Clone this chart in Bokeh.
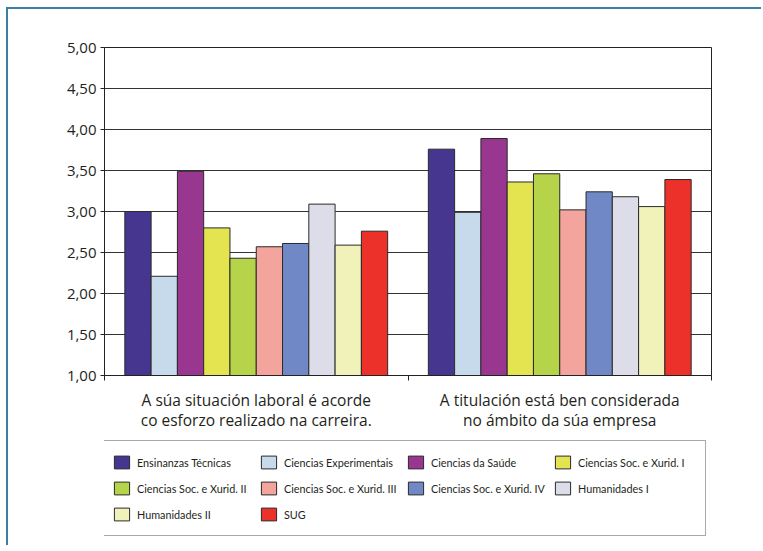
from bokeh.plotting import figure
from bokeh.layouts import column
from bokeh.models import FixedTicker, Legend, LegendItem, ColumnDataSource, Range1d, InlineStyleSheet
from bokeh.embed import file_html
from bokeh.resources import INLINE

# ---- data ----
groups = ["A súa situación laboral é acorde\nco esforzo realizado na carreira.",
          "A titulación está ben considerada\nno ámbito da súa empresa"]
series = ["Ensinanzas Técnicas", "Ciencias Experimentais", "Ciencias da Saúde",
          "Ciencias Soc. e Xurid. I", "Ciencias Soc. e Xurid. II", "Ciencias Soc. e Xurid. III",
          "Ciencias Soc. e Xurid. IV", "Humanidades I", "Humanidades II", "SUG"]
situacion_laboral = [3.00, 2.21, 3.49, 2.80, 2.43, 2.57, 2.61, 3.09, 2.59, 2.76]
titulacion_considerada = [3.76, 2.99, 3.89, 3.36, 3.46, 3.02, 3.24, 3.18, 3.06, 3.39]
colors = ["#46368F", "#C7DAEC", "#993690", "#E3E450", "#B5D44A",
          "#F3A49C", "#7089C6", "#DDDDEA", "#F1F2BA", "#EC312A"]
y_ticks = [1.0, 1.5, 2.0, 2.5, 3.0, 3.5, 4.0, 4.5, 5.0]
y_tick_labels = ["1,00", "1,50", "2,00", "2,50", "3,00", "3,50", "4,00", "4,50", "5,00"]

TEXT = "#231F20"
FONT = "Open Sans"
W = 761

p = figure(width=W, height=435, x_range=Range1d(0, len(groups)), y_range=Range1d(1, 5),
           output_backend="svg", toolbar_location=None,
           min_border_left=104, min_border_right=50, min_border_top=47, min_border_bottom=60)
p.border_fill_color = None

n = len(series)
group_share = 0.866
bw = group_share / n
renderers = []
for i, name in enumerate(series):
    vals = [situacion_laboral[i], titulacion_considerada[i]]
    xs = [g + 0.5 + (i - (n - 1) / 2) * bw for g in range(len(groups))]
    src = ColumnDataSource(dict(x=xs, top=vals))
    r = p.vbar(x="x", top="top", bottom=1, width=bw, source=src,
               fill_color=colors[i], line_color="#2A2A2A", line_width=1)
    renderers.append(r)

# y axis
p.yaxis.ticker = FixedTicker(ticks=y_ticks, minor_ticks=[])
p.yaxis.major_label_overrides = {t: l for t, l in zip(y_ticks, y_tick_labels)}
p.yaxis.major_tick_out = 4
p.yaxis.major_tick_in = 0
p.yaxis.major_label_standoff = 4
p.yaxis.axis_line_color = "#222222"
p.yaxis.major_tick_line_color = "#222222"
p.yaxis.major_label_text_font = FONT
p.yaxis.major_label_text_font_size = "15px"
p.yaxis.major_label_text_color = TEXT

# x axis
centers = [g + 0.5 for g in range(len(groups))]
p.xaxis.ticker = FixedTicker(ticks=centers, minor_ticks=list(range(len(groups) + 1)))
p.xaxis.major_label_overrides = {c: g for c, g in zip(centers, groups)}
p.xaxis.major_tick_line_color = None
p.xaxis.minor_tick_out = 5
p.xaxis.minor_tick_in = 0
p.xaxis.minor_tick_line_color = "#222222"
p.xaxis.axis_line_color = "#222222"
p.xaxis.major_label_standoff = 7
p.xaxis.major_label_text_font = FONT
p.xaxis.major_label_text_font_size = "15.5px"
p.xaxis.major_label_text_line_height = 0.95
p.xaxis.major_label_text_color = TEXT

p.xgrid.visible = False
p.ygrid.ticker = FixedTicker(ticks=y_ticks)
p.ygrid.grid_line_color = "#333333"
p.outline_line_color = "#222222"

# ---- legend panel (its frame is aligned with the chart frame) ----
LH = 110
q = figure(width=W, height=LH, x_range=Range1d(0, 1), y_range=Range1d(0, 1),
           x_axis_type=None, y_axis_type=None, output_backend="svg", toolbar_location=None,
           min_border=0)
q.border_fill_color = None
q.background_fill_color = None
q.outline_line_color = None
q.xgrid.visible = False
q.ygrid.visible = False
items = []
for i, name in enumerate(series):
    # one swatch sample per series, kept outside the visible range
    rr = q.vbar(x=[-5], top=[-5], width=0.1, fill_color=colors[i], line_color="#2A2A2A", line_width=1)
    items.append(LegendItem(label=name, renderers=[rr]))

legend = Legend(items=items, ncols=4, orientation="horizontal", location=(-4, 9))
legend.label_text_font = "Lato"
legend.label_text_font_size = "10.8px"
legend.label_text_color = TEXT
legend.glyph_width = 19
legend.glyph_height = 16
legend.label_height = 20
legend.label_width = 116
legend.label_standoff = 6
legend.spacing = 6
legend.padding = 11
legend.margin = 0
legend.background_fill_color = "white"
legend.border_line_color = "#555555"
legend.border_line_width = 1
q.add_layout(legend, "center")

frame_css = InlineStyleSheet(css="""
:host { background: white; box-shadow: inset 6px 7px 0 0 white, inset 8px 9px 0 0 #3B7EA6; }
""")
layout = column(p, q, spacing=0, stylesheets=[frame_css])

open("out.html", "w").write(file_html(layout, INLINE))
